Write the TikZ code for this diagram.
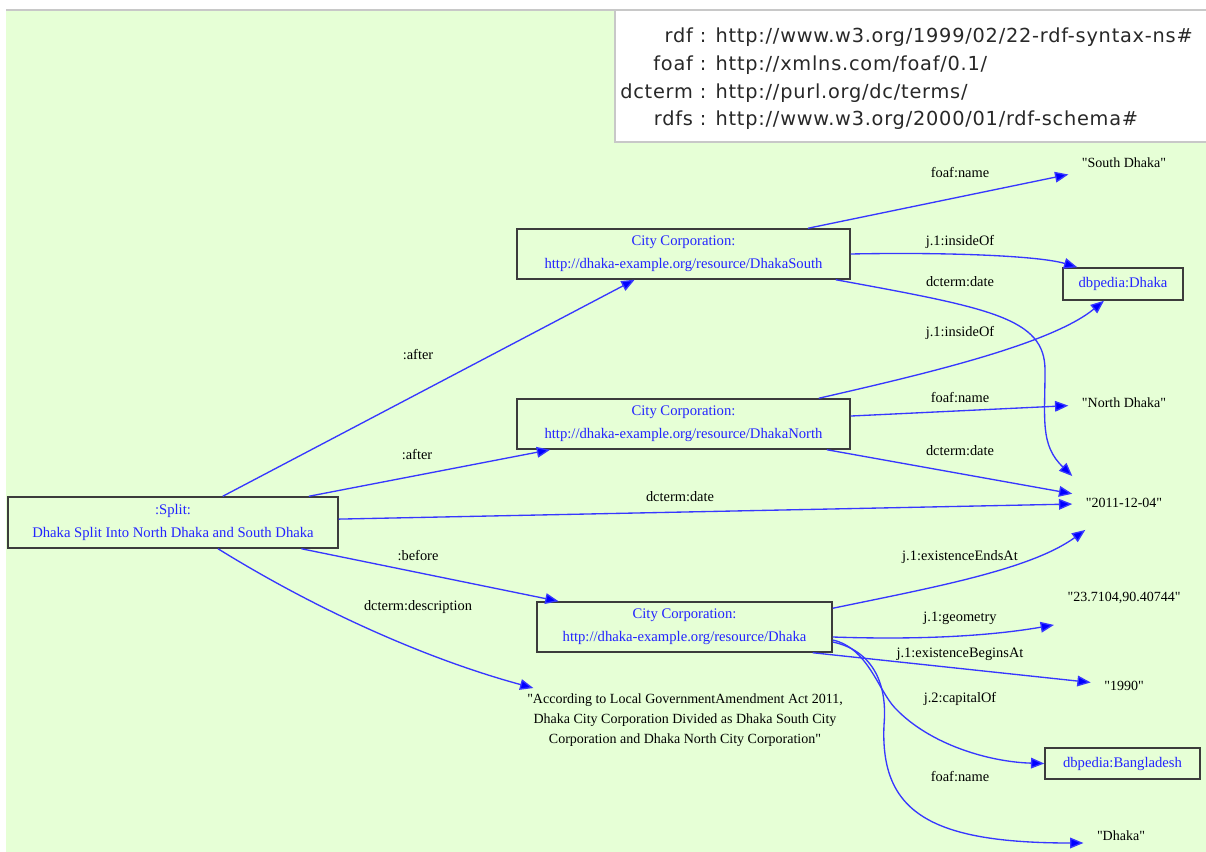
\documentclass[tikz,border=0pt]{standalone}
\usepackage{fontspec}
\setmainfont{Liberation Serif}
\newfontfamily\legendfont{DejaVu Sans}[LetterSpace=4]
% plain serif without TeX quote mapping, for literal values in straight quotes
\font\litserif="Liberation Serif" at 10.5pt
\usetikzlibrary{arrows.meta,calc}
\definecolor{bggreen}{RGB}{230,255,214}
\definecolor{edgeblue}{RGB}{55,55,255}
\definecolor{tipblue}{RGB}{0,0,255}
\definecolor{uriblue}{RGB}{35,35,255}
\definecolor{boxgray}{RGB}{60,60,60}
\definecolor{framegray}{RGB}{200,200,200}
\definecolor{legendtext}{RGB}{40,40,40}

\begin{document}
\begin{tikzpicture}[x=0.75pt,y=-0.75pt,
  resource/.style={draw=boxgray, line width=1.1pt, rectangle, inner sep=0pt,
    align=center, text=uriblue, font=\fontsize{11}{17}\selectfont},
  literal/.style={rectangle, inner xsep=10pt, inner ysep=0pt, minimum height=40pt,
    font=\fontsize{10.5}{15}\selectfont\litserif},
  prop/.style={font=\fontsize{10.8}{13}\selectfont, inner sep=1pt},
  rel/.style={draw=edgeblue, line width=1pt,
    -{Triangle[length=10pt,width=8pt,fill=tipblue]}}
]
\useasboundingbox (0,0) rectangle (1206,852);
\fill[white] (0,0) rectangle (1206,852);
\fill[bggreen] (6,11) rectangle (1206,852);
\draw[framegray, line width=1.5pt] (6,10.5) -- (1206,10.5);

% namespace prefixes
\draw[framegray, fill=white, line width=1pt] (615,10.5) rectangle (1210,142);
\node[anchor=north west, inner sep=0pt, text=legendtext] (legend) at (620,23)
  {\legendfont\fontsize{14.5}{20.8}\selectfont
   \begin{tabular}{@{}r@{ : }l@{}}
   rdf & http://www.w3.org/1999/02/22-rdf-syntax-ns\#\\
   foaf & http://xmlns.com/foaf/0.1/\\
   dcterm & http://purl.org/dc/terms/\\
   rdfs & http://www.w3.org/2000/01/rdf-schema\#
   \end{tabular}};

% resources
\node[resource, minimum width=247.5pt, minimum height=38.25pt] (split) at (173,522.5)
  {:Split:\\Dhaka Split Into North Dhaka and South Dhaka};
\node[resource, minimum width=249.75pt, minimum height=37.5pt] (south) at (683.5,254)
  {City Corporation:\\http://dhaka-example.org/resource/DhakaSouth};
\node[resource, minimum width=249.75pt, minimum height=37.5pt] (north) at (683.5,424)
  {City Corporation:\\http://dhaka-example.org/resource/DhakaNorth};
\node[resource, minimum width=221.25pt, minimum height=37.5pt] (dhaka) at (684.5,627)
  {City Corporation:\\http://dhaka-example.org/resource/Dhaka};
\node[resource, minimum width=90pt, minimum height=24pt] (dbdhaka) at (1123,284)
  {dbpedia:Dhaka};
\node[resource, minimum width=116.25pt, minimum height=23.25pt] (dbbd) at (1122.5,763.5)
  {dbpedia:Bangladesh};

% literals
\node[literal] (lsouth) at (1124,163) {"South Dhaka"};
\node[literal] (lnorth) at (1124,403) {"North Dhaka"};
\node[literal] (ldate) at (1124,503) {"2011-12-04"};
\node[literal] (lgeom) at (1124,598) {"23.7104,90.40744"};
\node[literal] (lyear) at (1124,686) {"1990"};
\node[literal] (lname) at (1121,836) {"Dhaka"};
\node[literal, align=center, minimum height=0pt, inner ysep=4pt, inner xsep=2pt]
  (desc) at (685,720)
  {"According to Local GovernmentAmendment Act 2011,\\
   Dhaka City Corporation Divided as Dhaka South City\\
   Corporation and Dhaka North City Corporation"};

% statements about the split
\draw[rel] (split) -- (south);
\draw[rel] (split) -- (north);
\draw[rel] (split) -- (ldate);
\draw[rel] (split) -- (dhaka);
\draw[rel] ($(split.south)+(45,0)$) .. controls (320,612) and (430,660) ..
  ($(desc.north west)+(9,0)$);

% statements about Dhaka South
\draw[rel] (south) -- (lsouth);
\draw[rel] (south.east) .. controls (950,252) and (1040,256) ..
  ($(dbdhaka.north west)+(15,0)$);
\draw[rel] ($(south.south east)+(-15,0)$) .. controls (990,308) and (1045,318) ..
  (1045,370) .. controls (1045,420) and (1040,445) .. (ldate.north west);

% statements about Dhaka North
\draw[rel] ($(north.north east)+(-32,0)$) .. controls (920,375) and (1050,345) ..
  ($(dbdhaka.south)+(-19,0)$);
\draw[rel] (north) -- (lnorth);
\draw[rel] (north) -- (ldate);

% statements about Dhaka
\draw[rel] ($(dhaka.north east)+(0,7)$) .. controls (930,588) and (1030,570) ..
  ($(ldate.south west)+(13,0)$);
\draw[rel] ($(dhaka.east)+(0,10)$) .. controls (920,640) and (990,636) ..
  (lgeom.south west);
\draw[rel] ($(dhaka.south east)+(-20,0)$) -- (lyear);
\draw[rel] ($(dhaka.east)+(0,13)$) .. controls (868,648) and (878,690) ..
  (895,708) .. controls (930,745) and (990,762) .. (dbbd.west);
\draw[rel] ($(dhaka.east)+(0,15)$) .. controls (870,650) and (888,680) ..
  (884,725) .. controls (880,812) and (930,843) .. ($(lname.west)+(0,7)$);

% property labels
\node[prop] (p1) at (418,355) {:after};
\node[prop] (p2) at (417,455) {:after};
\node[prop] (p3) at (680,497) {dcterm:date};
\node[prop] (p4) at (418,556) {:before};
\node[prop] (p5) at (418,607) {dcterm:description};
\node[prop] (p6) at (960,173) {foaf:name};
\node[prop] (p7) at (960,242) {j.1:insideOf};
\node[prop] (p8) at (960,282) {dcterm:date};
\node[prop] (p9) at (960,333) {j.1:insideOf};
\node[prop] (p10) at (960,398) {foaf:name};
\node[prop] (p11) at (960,451) {dcterm:date};
\node[prop] (p12) at (960,557) {j.1:existenceEndsAt};
\node[prop] (p13) at (960,618) {j.1:geometry};
\node[prop] (p14) at (960,654) {j.1:existenceBeginsAt};
\node[prop] (p15) at (960,699) {j.2:capitalOf};
\node[prop] (p16) at (960,777) {foaf:name};
\end{tikzpicture}
\end{document}
